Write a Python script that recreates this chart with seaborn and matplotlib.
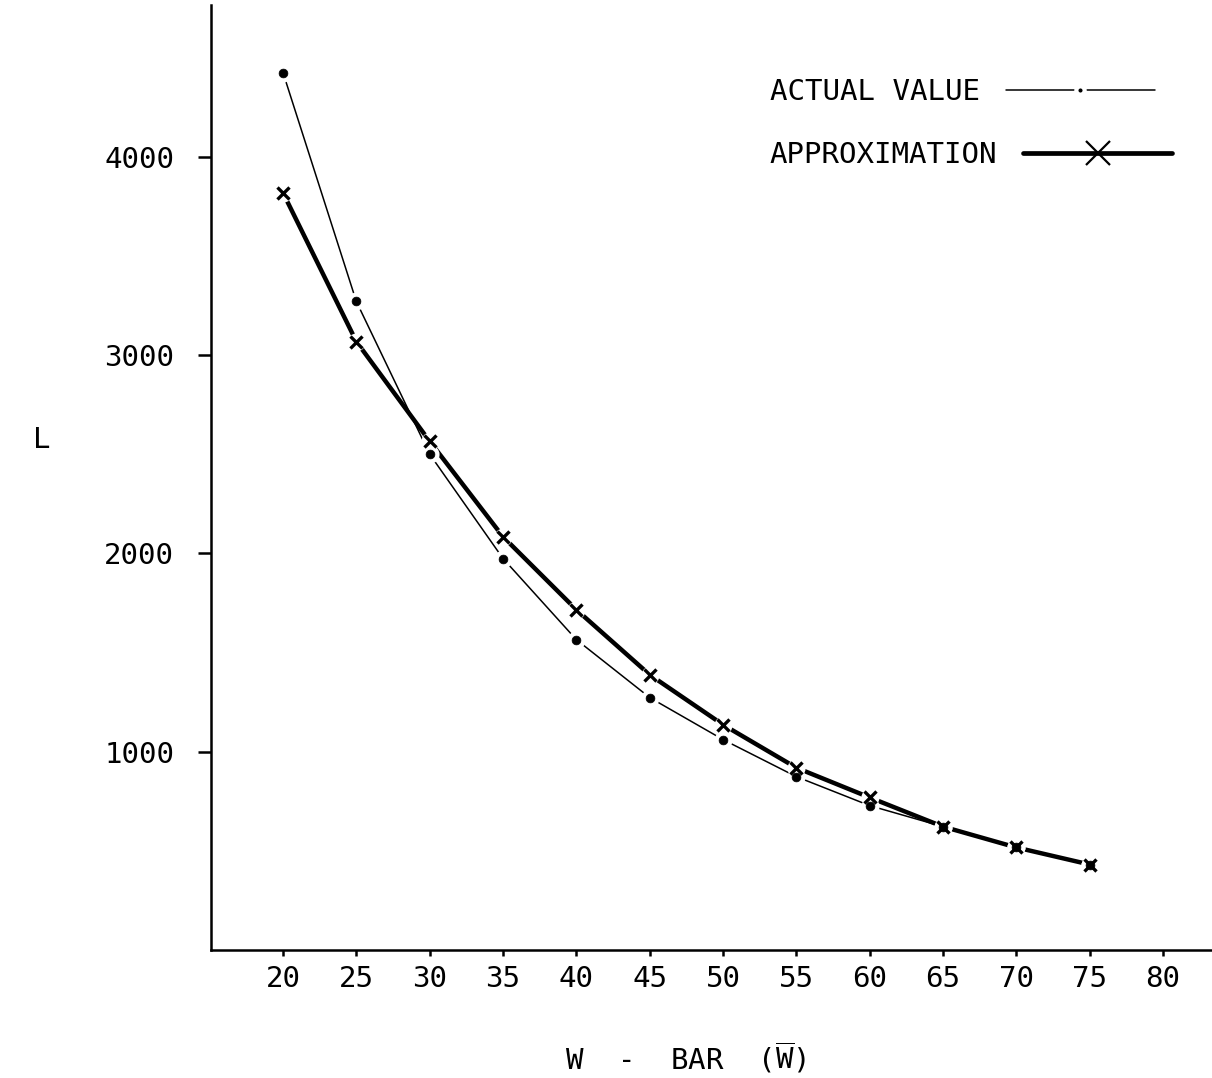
import matplotlib
matplotlib.use("Agg")
import matplotlib.pyplot as plt
import seaborn as sns
import pandas as pd
from matplotlib.lines import Line2D

# ---- data ----
w_bar = [20, 25, 30, 35, 40, 45, 50, 55, 60, 65, 70, 75]
actual_value = [4424, 3270, 2500, 1974, 1565, 1273, 1061, 874, 728, 622, 517, 431]
approximation = [3818, 3068, 2565, 2084, 1716, 1388, 1136, 919, 769, 622, 517, 431]
x_ticks = [20, 25, 30, 35, 40, 45, 50, 55, 60, 65, 70, 75, 80]
y_ticks = [1000, 2000, 3000, 4000]
series_labels = ["ACTUAL VALUE", "APPROXIMATION"]

sns.set_theme(style="ticks")
plt.rcParams["font.family"] = ["DejaVu Sans Mono", "DejaVu Sans"]
plt.rcParams["mathtext.fontset"] = "custom"
plt.rcParams["mathtext.rm"] = "DejaVu Sans Mono"

FS = 21
W, H = 1212, 1078
fig = plt.figure(figsize=(W / 100, H / 100), dpi=100)
fig.patch.set_facecolor("white")
ax = fig.add_axes([211 / W, 128 / H, (W - 211) / W, 945 / H])
ax.set_facecolor("white")

df = pd.DataFrame({"W": w_bar, "ACTUAL VALUE": actual_value, "APPROXIMATION": approximation})

sns.lineplot(data=df, x="W", y="ACTUAL VALUE", color="black", lw=1.1, ax=ax, zorder=2)
sns.lineplot(data=df, x="W", y="APPROXIMATION", color="black", lw=3.2, ax=ax, zorder=2)

# small gaps around the markers, as on the pen plot
for col in series_labels:
    ax.scatter(df["W"], df[col], s=170, color="white", lw=0, zorder=3)
sns.scatterplot(data=df, x="W", y="ACTUAL VALUE", marker="o", s=40, color="black",
                edgecolor="black", ax=ax, zorder=4)
sns.scatterplot(data=df, x="W", y="APPROXIMATION", marker="x", s=75, color="black",
                linewidth=2.4, ax=ax, zorder=4)

ax.set_xlim(15.09, 83.34)
ax.set_ylim(0, 4765)
ax.set_xticks(x_ticks)
ax.set_xticklabels([str(v) for v in x_ticks])
ax.set_yticks(y_ticks)
ax.set_yticklabels([str(v) for v in y_ticks])

for s in ["top", "right"]:
    ax.spines[s].set_visible(False)
for s in ["left", "bottom"]:
    ax.spines[s].set_linewidth(1.8)
    ax.spines[s].set_color("black")

ax.tick_params(axis="x", direction="out", length=4, width=1.8, pad=7,
               labelsize=FS, colors="black")
ax.tick_params(axis="y", direction="out", length=9.5, width=1.8, pad=17,
               labelsize=FS, colors="black")

ax.set_xlabel(r"W  -  BAR  ($\overline{\mathrm{W}}$)", fontsize=FS, color="black",
              va="center", ha="center")
ax.xaxis.set_label_coords((686 - 211) / (W - 211), (950 - 1058) / 945)
ax.set_ylabel("L", fontsize=FS, rotation=0, color="black", va="center", ha="center")
ax.yaxis.set_label_coords((42 - 211) / (W - 211), (950 - 440) / 945)

handles = [
    Line2D([], [], color="black", lw=1.1, marker="o", markersize=6,
           markerfacecolor="black", markeredgecolor="white", markeredgewidth=3),
    Line2D([], [], color="black", lw=3.4, marker="x", markersize=17,
           markeredgewidth=1.6),
]
leg = ax.legend(handles, series_labels, markerfirst=False, frameon=False,
                loc="upper right", bbox_to_anchor=(1172 / W, 1 - 78 / H),
                bbox_transform=fig.transFigure, fontsize=FS, handlelength=5.1,
                handletextpad=0.9, labelspacing=1.2, borderpad=0,
                borderaxespad=0, numpoints=1)
for t in leg.get_texts():
    t.set_color("black")
# left-align the label column, as in the reference
try:
    for col in leg._legend_handle_box.get_children():
        col.align = "left"
except Exception:
    pass

fig.savefig("out.png", dpi=100, facecolor="white")
